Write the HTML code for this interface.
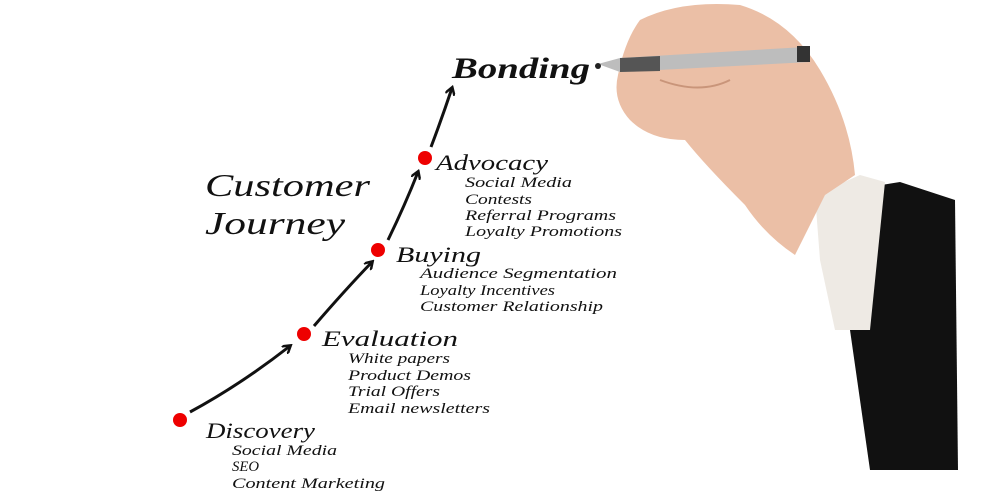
<!DOCTYPE html>
<html><head><meta charset="utf-8"><style>
html,body{margin:0;padding:0;background:#fff}
body{width:1000px;height:500px;position:relative;overflow:hidden}
svg{position:absolute;left:0;top:0}
text{font-family:"Liberation Serif",serif;font-style:italic;fill:#111}
</style></head><body>
<svg width="1000" height="500" viewBox="0 0 1000 500">
<defs><marker id="a" markerWidth="10" markerHeight="10" refX="7" refY="5" orient="auto" markerUnits="userSpaceOnUse"><path d="M0,0 L8,5 L0,10" fill="none" stroke="#111" stroke-width="2.5"/></marker></defs>
<g fill="none" stroke="#111" stroke-width="3" marker-end="url(#a)">
<path d="M190,412 Q240,385 290,346"/>
<path d="M314,326 Q345,290 372,262"/>
<path d="M388,240 Q405,205 418,172"/>
<path d="M431,147 Q442,118 452,88"/>
</g>
<g fill="#e00">
<circle cx="180" cy="420" r="7"/><circle cx="304" cy="334" r="7"/>
<circle cx="378" cy="250" r="7"/><circle cx="425" cy="158" r="7"/>
</g>
<g lengthAdjust="spacingAndGlyphs">
<text x="452" y="78" font-size="30" font-weight="bold" textLength="138" lengthAdjust="spacingAndGlyphs">Bonding</text>
<text x="205" y="196" font-size="32" textLength="165" lengthAdjust="spacingAndGlyphs">Customer</text>
<text x="205" y="234" font-size="32" textLength="140" lengthAdjust="spacingAndGlyphs">Journey</text>
<text x="436" y="170" font-size="22" textLength="112" lengthAdjust="spacingAndGlyphs">Advocacy</text>
<g font-size="15"><text x="465" y="187" textLength="107" lengthAdjust="spacingAndGlyphs">Social Media</text><text x="465" y="204" textLength="67" lengthAdjust="spacingAndGlyphs">Contests</text><text x="465" y="220" textLength="151" lengthAdjust="spacingAndGlyphs">Referral Programs</text><text x="465" y="236" textLength="157" lengthAdjust="spacingAndGlyphs">Loyalty Promotions</text></g>
<text x="396" y="262" font-size="22" textLength="85" lengthAdjust="spacingAndGlyphs">Buying</text>
<g font-size="15"><text x="420" y="278" textLength="197" lengthAdjust="spacingAndGlyphs">Audience Segmentation</text><text x="420" y="295" textLength="135" lengthAdjust="spacingAndGlyphs">Loyalty Incentives</text><text x="420" y="311" textLength="183" lengthAdjust="spacingAndGlyphs">Customer Relationship</text></g>
<text x="322" y="346" font-size="22" textLength="136" lengthAdjust="spacingAndGlyphs">Evaluation</text>
<g font-size="15"><text x="348" y="363" textLength="102" lengthAdjust="spacingAndGlyphs">White papers</text><text x="348" y="380" textLength="123" lengthAdjust="spacingAndGlyphs">Product Demos</text><text x="348" y="396" textLength="92" lengthAdjust="spacingAndGlyphs">Trial Offers</text><text x="348" y="413" textLength="142" lengthAdjust="spacingAndGlyphs">Email newsletters</text></g>
<text x="206" y="438" font-size="22" textLength="109" lengthAdjust="spacingAndGlyphs">Discovery</text>
<g font-size="15"><text x="232" y="455" textLength="105" lengthAdjust="spacingAndGlyphs">Social Media</text><text x="232" y="471" textLength="27" lengthAdjust="spacingAndGlyphs">SEO</text><text x="232" y="488" textLength="153" lengthAdjust="spacingAndGlyphs">Content Marketing</text></g>
</g>
<!-- suit -->
<polygon points="850,190 900,182 955,200 958,470 870,470 850,330" fill="#111"/>
<!-- cuff -->
<polygon points="815,195 860,175 885,182 870,330 835,330 820,260" fill="#eeeae4"/>
<!-- hand -->
<path d="M640,20 Q680,0 740,5 Q790,20 820,70 Q850,120 855,175 L825,195 Q805,235 795,255 Q765,235 745,205 Q705,165 685,140 Q650,140 630,120 Q612,100 618,75 Q625,40 640,20 Z" fill="#ebbfa6"/>
<path d="M660,80 Q700,95 730,80" stroke="#c9957a" stroke-width="2" fill="none"/>
<!-- pen -->
<polygon points="598,64 620,58 805,47 810,62 620,72" fill="#bdbdbd"/>
<polygon points="620,58 660,56 660,71 620,72" fill="#555"/>
<rect x="797" y="46" width="13" height="16" fill="#333"/>
<circle cx="598" cy="66" r="3" fill="#222"/>
</svg>
</body></html>
